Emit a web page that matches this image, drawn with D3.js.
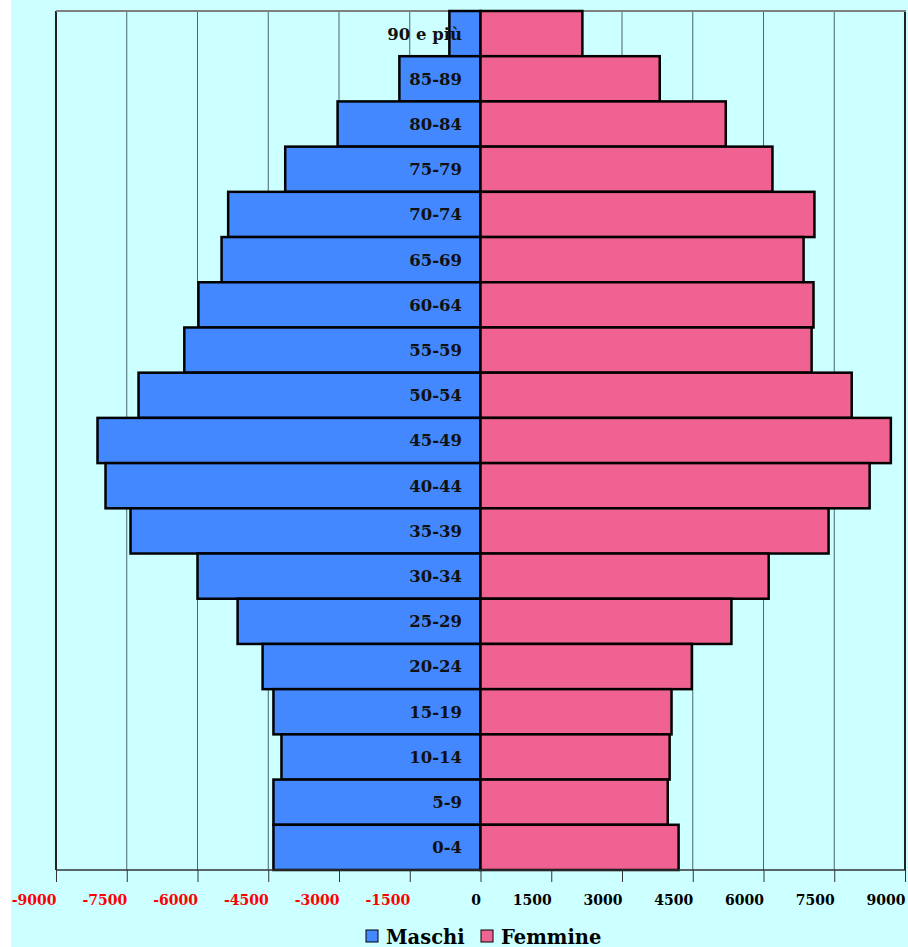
<!DOCTYPE html>
<html>
<head>
<meta charset="utf-8">
<script src="https://cdn.jsdelivr.net/npm/d3@7"></script>
<style>
    body { margin: 0; background: #ffffff; }
    svg text { font-family: "DejaVu Serif", serif; font-weight: bold; }
</style>
</head>
<body>
<svg id="chart" width="908" height="947"></svg>
<script>
// age classes, top to bottom
var ageClasses = ["90 e più", "85-89", "80-84", "75-79", "70-74", "65-69", "60-64", "55-59", "50-54",
    "45-49", "40-44", "35-39", "30-34", "25-29", "20-24", "15-19", "10-14", "5-9", "0-4"];

// males (drawn on the left)
var maschi = [660, 1720, 3030, 4140, 5350, 5490, 5980, 6280, 7250,
    8120, 7950, 7420, 6000, 5150, 4620, 4390, 4220, 4390, 4390];

// females (drawn on the right)
var femmine = [2160, 3800, 5200, 6190, 7080, 6850, 7060, 7020, 7870,
    8700, 8250, 7380, 6110, 5320, 4480, 4050, 4010, 3970, 4200];

var tickValues = [-9000, -7500, -6000, -4500, -3000, -1500, 0, 1500, 3000, 4500, 6000, 7500, 9000];

var svg = d3.select("#chart");

var plotLeft = 56, plotRight = 905, plotTop = 11, plotBottom = 870;

// background
svg.append("rect")
    .attr("x", 11).attr("y", 0)
    .attr("width", 908 - 11).attr("height", 947)
    .style("fill", "#ccffff");

var xScale = d3.scaleLinear()
    .domain([-9000, 9000])
    .range([plotLeft, plotRight]);

var yScale = d3.scaleBand()
    .domain(ageClasses)
    .range([plotTop, plotBottom])
    .padding(0);

// gridlines
svg.append("g")
    .selectAll("line")
    .data(tickValues)
    .enter()
    .append("line")
    .attr("x1", function(d){ return xScale(d); })
    .attr("x2", function(d){ return xScale(d); })
    .attr("y1", plotTop)
    .attr("y2", plotBottom)
    .style("stroke", function(d){ return (d == -9000 || d == 9000) ? "#222" : "#4a6666"; })
    .style("stroke-width", function(d){ return (d == -9000 || d == 9000) ? 2 : 1; });

// top border
svg.append("line")
    .attr("x1", plotLeft).attr("x2", plotRight + 1)
    .attr("y1", plotTop).attr("y2", plotTop)
    .style("stroke", "#808080")
    .style("stroke-width", 2);

var rows = ageClasses.map(function(c, i){ return {age: c, m: maschi[i], f: femmine[i]}; });

// male bars
svg.append("g")
    .selectAll("rect")
    .data(rows)
    .enter()
    .append("rect")
    .attr("x", function(d){ return xScale(-d.m); })
    .attr("y", function(d){ return yScale(d.age); })
    .attr("width", function(d){ return xScale(0) - xScale(-d.m); })
    .attr("height", yScale.bandwidth())
    .style("fill", "#4488ff")
    .style("stroke", "#000")
    .style("stroke-width", 2.5);

// female bars
svg.append("g")
    .selectAll("rect")
    .data(rows)
    .enter()
    .append("rect")
    .attr("x", xScale(0))
    .attr("y", function(d){ return yScale(d.age); })
    .attr("width", function(d){ return xScale(d.f) - xScale(0); })
    .attr("height", yScale.bandwidth())
    .style("fill", "#f06292")
    .style("stroke", "#000")
    .style("stroke-width", 2.5);

// age labels
svg.append("g")
    .selectAll("text")
    .data(rows)
    .enter()
    .append("text")
    .attr("x", 462)
    .attr("y", function(d){ return yScale(d.age) + yScale.bandwidth() / 2; })
    .attr("dy", "0.36em")
    .attr("text-anchor", "end")
    .style("font-size", "16.5px")
    .style("fill", "#111")
    .text(function(d){ return d.age; });

// x axis
var xAxis = d3.axisBottom(xScale)
    .tickValues(tickValues)
    .tickSize(12)
    .tickFormat(function(d){ return String(d); });

var axisG = svg.append("g")
    .attr("transform", "translate(0," + plotBottom + ")")
    .call(xAxis);

axisG.select(".domain")
    .attr("d", "M" + plotLeft + ",0H" + plotRight)
    .style("stroke", "#333")
    .style("stroke-width", 1.5);

axisG.selectAll(".tick line")
    .style("stroke", "#333");

axisG.selectAll(".tick text")
    .attr("y", 35)
    .attr("dy", "0")
    .attr("x", 0)
    .attr("text-anchor", "end")
    .style("font-size", "14px")
    .style("fill", function(d){ return d < 0 ? "#ff0000" : "#000"; });

// legend
var legend = [{name: "Maschi", color: "#4488ff", x: 366}, {name: "Femmine", color: "#f06292", x: 481}];

var lg = svg.append("g").selectAll("g")
    .data(legend)
    .enter()
    .append("g");

lg.append("rect")
    .attr("x", function(d){ return d.x; })
    .attr("y", 930)
    .attr("width", 12)
    .attr("height", 12)
    .style("fill", function(d){ return d.color; })
    .style("stroke", "#000")
    .style("stroke-width", 1);

lg.append("text")
    .attr("x", function(d){ return d.x + 20; })
    .attr("y", 944)
    .style("font-size", "19.5px")
    .style("fill", "#000")
    .text(function(d){ return d.name; });
</script>
</body>
</html>
